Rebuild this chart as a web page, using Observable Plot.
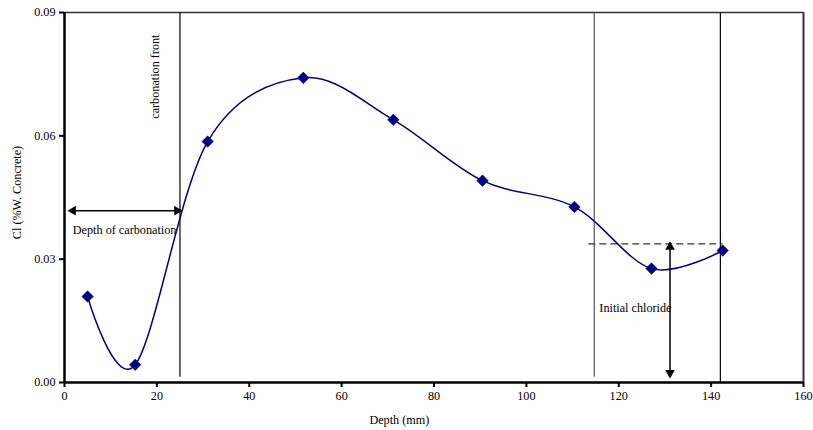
<!DOCTYPE html>
<html>
<head>
<meta charset="utf-8">
<script src="https://cdn.jsdelivr.net/npm/d3@7"></script>
<script src="https://cdn.jsdelivr.net/npm/@observablehq/plot@0.6"></script>
<style>
  html, body { margin: 0; padding: 0; background: #fff; }
  #chart svg { display: block; font-family: 'Liberation Serif', 'Times New Roman', serif; }
</style>
</head>
<body>
<div id="chart"></div>
<script>
// Data
const depth = [5, 15.3, 31, 51.7, 71.2, 90.5, 110.4, 127.1, 142.5];
const chloride = [0.0209, 0.0043, 0.0586, 0.0741, 0.0639, 0.0491, 0.0427, 0.0277, 0.0321];

const xTicks = [0, 20, 40, 60, 80, 100, 120, 140, 160];
const yTicks = [0, 0.03, 0.06, 0.09];

// Annotation values
const frontLines = [
  {x: 25, y1: 0.0014, y2: 0.09, color: "#000"},
  {x: 114.7, y1: 0.0014, y2: 0.09, color: "#555"},
  {x: 142, y1: 0, y2: 0.09, color: "#000"}
];
const carbArrow = {x1: 1.2, x2: 25, y: 0.0418};
const initLine = {x1: 113.4, x2: 142.5, y: 0.0337};
const initArrow = {x: 131.1, y1: 0.0337, y2: 0.0016};
const startLabels = [
  {text: "Depth of carbonation", x: 1.8, y: 0.0370},
  {text: "Initial chloride", x: 115.8, y: 0.0182}
];
const frontLabel = [{text: "carbonation front", x: 19.7, y: 0.0744}];

const points = depth.map((d, i) => ({depth: d, cl: chloride[i]}));
const FONT = "'Liberation Serif', 'Times New Roman', serif";

const chart = Plot.plot({
  width: 813,
  height: 430,
  marginLeft: 64,
  marginRight: 10,
  marginTop: 12,
  marginBottom: 48,
  style: {fontFamily: FONT, fontSize: "12px", color: "#000", background: "#fff"},
  x: {domain: [0, 160], label: null},
  y: {domain: [0, 0.09], label: null},
  marks: [
    // frame
    Plot.ruleY([0.09], {stroke: "#333", strokeWidth: 1.5}),
    Plot.ruleX([160], {stroke: "#333", strokeWidth: 2}),
    // vertical reference lines
    Plot.link(frontLines, {x1: "x", x2: "x", y1: "y1", y2: "y2", stroke: "color", strokeWidth: 1.2}),
    // dashed initial chloride level
    Plot.link([initLine], {x1: "x1", x2: "x2", y1: "y", y2: "y", stroke: "#333", strokeWidth: 1.2, strokeDasharray: "7,4"}),
    // horizontal double arrow
    Plot.link([carbArrow], {x1: "x1", x2: "x2", y1: "y", y2: "y", stroke: "#000", strokeWidth: 1.5}),
    Plot.dot([carbArrow], {x: "x1", y: "y", symbol: "triangle", r: 3.6, fill: "#000", rotate: -90, dx: 3}),
    Plot.dot([carbArrow], {x: "x2", y: "y", symbol: "triangle", r: 3.6, fill: "#000", rotate: 90, dx: -3}),
    // vertical double arrow
    Plot.link([initArrow], {x1: "x", x2: "x", y1: "y1", y2: "y2", stroke: "#000", strokeWidth: 1.5}),
    Plot.dot([initArrow], {x: "x", y: "y1", symbol: "triangle", r: 3.6, fill: "#000", rotate: 0, dy: 3}),
    Plot.dot([initArrow], {x: "x", y: "y2", symbol: "triangle", r: 3.6, fill: "#000", rotate: 180, dy: -3}),
    // smoothed series
    Plot.line(points, {x: "depth", y: "cl", curve: "cardinal", stroke: "#000080", strokeWidth: 1.5}),
    Plot.dot(points, {x: "depth", y: "cl", symbol: "diamond2", r: 5.2, fill: "#000080", stroke: "#000080", strokeWidth: 0.5}),
    // annotation labels
    Plot.text(startLabels, {x: "x", y: "y", text: "text", textAnchor: "start", fontSize: 12.2, fontFamily: FONT, fill: "#000"}),
    Plot.text(frontLabel, {x: "x", y: "y", text: "text", rotate: -90, textAnchor: "middle", fontSize: 12.2, fontFamily: FONT, fill: "#000"}),
    // axes
    Plot.axisX({ticks: xTicks, tickSize: 5, tickPadding: 4, fontSize: 12.2, fontFamily: FONT, strokeWidth: 2, label: null}),
    Plot.axisY({ticks: yTicks, tickSize: 5, tickPadding: 4, fontSize: 12.2, fontFamily: FONT, strokeWidth: 2, tickFormat: d3.format(".2f"), label: null}),
    Plot.ruleX([0], {stroke: "#000", strokeWidth: 2.5}),
    Plot.ruleY([0], {stroke: "#000", strokeWidth: 2.5}),
    // axis titles
    Plot.text(["Depth (mm)"], {x: [72.5], frameAnchor: "bottom", dy: 41, fontSize: 12.2, fontFamily: FONT, fill: "#000"}),
    Plot.text(["Cl (%W. Concrete)"], {frameAnchor: "left", textAnchor: "middle", dx: -47, dy: -5, rotate: -90, fontSize: 12.2, fontFamily: FONT, fill: "#000"})
  ]
});

document.getElementById("chart").appendChild(chart);
</script>
</body>
</html>
